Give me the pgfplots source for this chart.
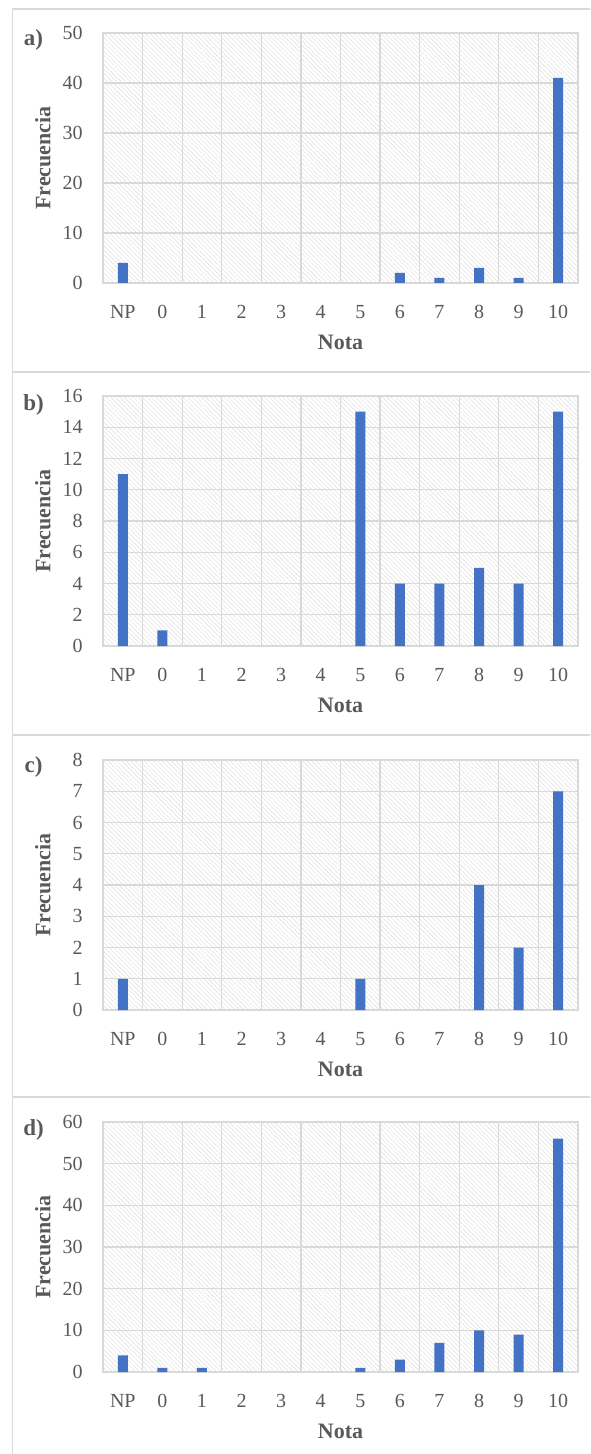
\documentclass[border=0pt]{standalone}
\usepackage{pgfplots}
\pgfplotsset{compat=1.18}
\usepackage{fontspec}
\setmainfont{Liberation Serif}
\usetikzlibrary{patterns.meta}
\definecolor{txt}{HTML}{595959}
\definecolor{barblue}{HTML}{4472C4}
\definecolor{grd}{HTML}{D9D9D9}
\definecolor{frm}{HTML}{D9D9D9}
\pgfplotsset{
  panel/.style={
    scale only axis, width=237.5pt, height=125pt,
    anchor=south west,
    xmin=-0.5, xmax=11.5, ymin=0,
    xtick={0,...,11},
    xticklabels={NP,0,1,2,3,4,5,6,7,8,9,10},
    minor xtick={0.5,1.5,...,10.5},
    xminorgrids, ymajorgrids,
    major tick length=0pt, minor tick length=0pt,
    grid style={grd, line width=0.6pt},
    minor grid style={grd, line width=0.6pt},
    axis line style={grd, line width=0.6pt},
    axis background/.style={pattern={Lines[angle=-45,distance=1.6pt,line width=0.3pt]}, pattern color=gray!22},
    tick label style={font=\fontsize{10}{10}\selectfont, text=txt},
    /pgf/number format/assume math mode=true,
    yticklabel style={anchor=east, inner sep=0pt, xshift=-10pt},
    xticklabel style={anchor=north, inner sep=0pt, yshift=-11pt},
    xlabel={Nota}, ylabel={Frecuencia},
    xlabel style={at={(axis description cs:0.5,0)}, anchor=center, yshift=-29.5pt, font=\fontsize{11}{12}\selectfont\bfseries, text=txt},
    ylabel style={at={(axis description cs:0,0.5)}, anchor=center, yshift=30pt, font=\fontsize{11}{12}\selectfont\bfseries, text=txt},
    ybar, bar width=5pt,
  }
}
\begin{document}
\begin{tikzpicture}
\path[use as bounding box] (0,0) rectangle (295pt,-727pt);
\draw[frm, line width=0.6pt] (6.25pt,-727pt) -- (6.25pt,-4.5pt) -- (295pt,-4.5pt);
\draw[frm, line width=0.6pt] (6.25pt,-186pt) -- (295pt,-186pt);
\draw[frm, line width=0.6pt] (6.25pt,-367.5pt) -- (295pt,-367.5pt);
\draw[frm, line width=0.6pt] (6.25pt,-548.5pt) -- (295pt,-548.5pt);
% categories: 0=NP, 1=0, 2=1, ..., 11=10 (zero counts omitted)
\begin{axis}[panel, at={(51.5pt,-141.5pt)}, ymax=50, ytick={0,10,...,50}]
\addplot[fill=barblue, draw=none] coordinates {(0,4) (7,2) (8,1) (9,3) (10,1) (11,41)};
\end{axis}
\begin{axis}[panel, at={(51.5pt,-323pt)}, ymax=16, ytick={0,2,...,16}]
\addplot[fill=barblue, draw=none] coordinates {(0,11) (1,1) (6,15) (7,4) (8,4) (9,5) (10,4) (11,15)};
\end{axis}
\begin{axis}[panel, at={(51.5pt,-505pt)}, ymax=8, ytick={0,1,...,8}]
\addplot[fill=barblue, draw=none] coordinates {(0,1) (6,1) (9,4) (10,2) (11,7)};
\end{axis}
\begin{axis}[panel, at={(51.5pt,-686pt)}, ymax=60, ytick={0,10,...,60}]
\addplot[fill=barblue, draw=none] coordinates {(0,4) (1,1) (2,1) (6,1) (7,3) (8,7) (9,10) (10,9) (11,56)};
\end{axis}
\node[font=\fontsize{11.5}{12}\selectfont\bfseries, text=txt] at (16.75pt,-20pt) {a)};
\node[font=\fontsize{11.5}{12}\selectfont\bfseries, text=txt] at (16.75pt,-202.5pt) {b)};
\node[font=\fontsize{11.5}{12}\selectfont\bfseries, text=txt] at (16.75pt,-383.5pt) {c)};
\node[font=\fontsize{11.5}{12}\selectfont\bfseries, text=txt] at (16.75pt,-565pt) {d)};
\end{tikzpicture}
\end{document}
